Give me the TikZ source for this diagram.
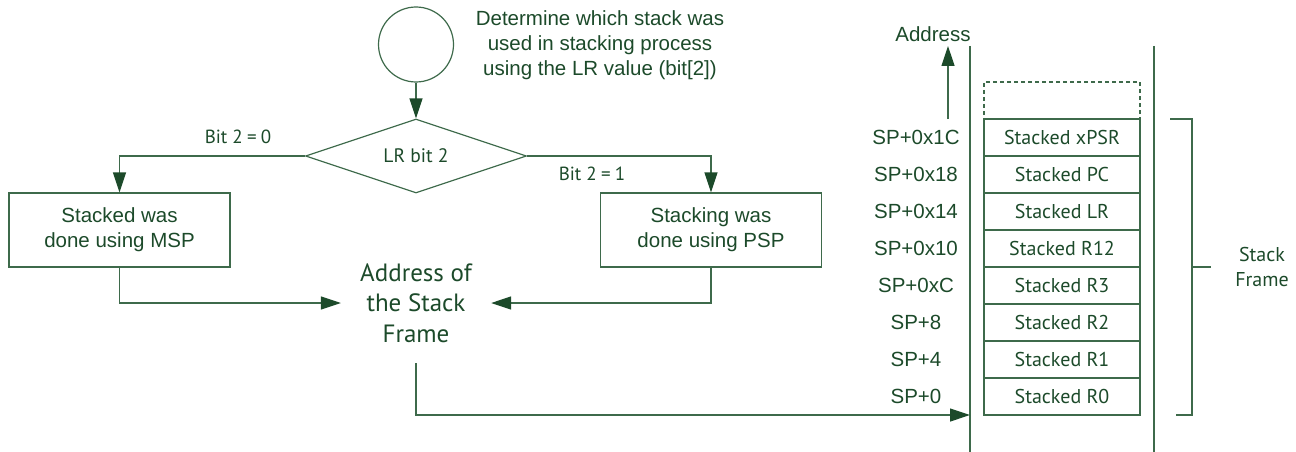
\documentclass[tikz,border=0pt]{standalone}
\usepackage{fontspec}
\setmainfont{Liberation Sans}
\newfontfamily\myr{PT Sans}
\usetikzlibrary{shapes.geometric,arrows.meta}
\definecolor{dg}{HTML}{1C4A2A}
\definecolor{lg}{HTML}{3E6A4B}
\begin{document}
\begin{tikzpicture}[x=1pt,y=-1pt,
  every node/.style={text=dg},
  ln/.style={draw=lg, line width=1.2pt},
  arr/.style={ln, arrows={-{Triangle[length=20pt,width=13pt,fill=dg,color=dg]}}},
  ariel/.style={font=\fontsize{20.5}{25.3}\selectfont, align=center},
  myriad/.style={font=\myr\fontsize{20}{25}\selectfont, align=center},
  small/.style={font=\myr\fontsize{19}{22}\selectfont},
  box/.style={ln, rectangle, minimum width=221pt, minimum height=74pt, inner sep=0pt, ariel},
  cell/.style={ln, rectangle, minimum width=156pt, minimum height=37pt, inner sep=0pt, myriad},
  splab/.style={ariel, anchor=center}
]
\useasboundingbox (0,0) rectangle (1296,452);
% flowchart
\node[ln, circle, minimum size=75pt, inner sep=0pt] (start) at (416,44.5) {};
\node[ariel] (note) at (600,45) {Determine which stack was\\used in stacking process\\using the LR value (bit[2])};
\node[ln, diamond, aspect=3, minimum width=221pt, minimum height=74pt, inner sep=0pt, font=\myr\fontsize{19.5}{23}\selectfont] (dec) at (416,156) {LR bit 2};
\node[box] (msp) at (119.5,230) {Stacked was\\done using MSP};
\node[box] (psp) at (711,230) {Stacking was\\done using PSP};
\node[font=\myr\fontsize{25}{30.5}\selectfont, align=center, minimum width=150pt, minimum height=120pt, inner sep=0pt] (addr) at (416,303) {Address of\\the Stack\\Frame};
\node[small] (b0) at (238,137) {Bit 2\:=\:0};
\node[small] (b1) at (592,174) {Bit 2\:=\:1};
\draw[arr] (start.south) -- (dec.north);
\draw[arr] (dec.west) -| (msp.north);
\draw[arr] (dec.east) -| (psp.north);
\draw[arr] (msp.south) |- (addr.west);
\draw[arr] (psp.south) |- (addr.east);
% stack
\coordinate (ltop) at (970,46);
\coordinate (lbot) at (970,452);
\coordinate (rtop) at (1154,46);
\coordinate (rbot) at (1154,452);
\coordinate (sp0) at (970,415);
\draw[ln] (ltop) -- (lbot);
\draw[ln] (rtop) -- (rbot);
\draw[arr] (addr.south) |- (sp0);
\node[cell, dashed, dash pattern=on 4pt off 3pt] (empty) at (1062,100.5) {};
\foreach \n/\t/\l [count=\i from 0] in {c7/Stacked xPSR/SP+0x1C, c6/Stacked PC/SP+0x18, c5/Stacked LR/SP+0x14, c4/Stacked R12/SP+0x10, c3/Stacked R3/SP+0xC, c2/Stacked R2/SP+8, c1/Stacked R1/SP+4, c0/Stacked R0/SP+0}{
  \node[cell] (\n) at (1062,137.5+37*\i) {\t};
  \node[splab] (l\n) at (916,137.5+37*\i) {\l};
}
\coordinate (aup0) at (948,119);
\coordinate (aup1) at (948,46);
\draw[arr] (aup0) -- (aup1);
\node[ariel] (addrlab) at (933,34) {Address};
% bracket
\coordinate (br0) at (1170,119);
\coordinate (br1) at (1192,119);
\coordinate (br2) at (1192,415);
\coordinate (br3) at (1176,415);
\coordinate (bm0) at (1192,267);
\coordinate (bm1) at (1211,267);
\draw[ln] (br0) -- (br1) -- (br2) -- (br3);
\draw[ln] (bm0) -- (bm1);
\node[myriad] (sf) at (1262,267) {Stack\\Frame};
\end{tikzpicture}
\end{document}
